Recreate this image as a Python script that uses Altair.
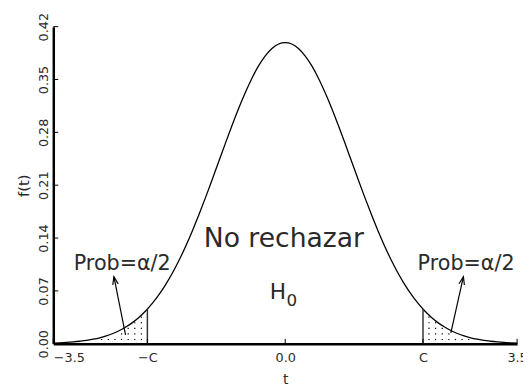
import altair as alt
import pandas as pd
import numpy as np

# ---- data ----
t_grid = [-3.5, -3.4, -3.3, -3.2, -3.1, -3.0, -2.9, -2.8, -2.7, -2.6, -2.5, -2.4,
          -2.3, -2.2, -2.1, -2.0, -1.9, -1.8, -1.7, -1.6, -1.5, -1.4, -1.3, -1.2,
          -1.1, -1.0, -0.9, -0.8, -0.7, -0.6, -0.5, -0.4, -0.3, -0.2, -0.1, 0.0,
          0.1, 0.2, 0.3, 0.4, 0.5, 0.6, 0.7, 0.8, 0.9, 1.0, 1.1, 1.2, 1.3, 1.4,
          1.5, 1.6, 1.7, 1.8, 1.9, 2.0, 2.1, 2.2, 2.3, 2.4, 2.5, 2.6, 2.7, 2.8,
          2.9, 3.0, 3.1, 3.2, 3.3, 3.4, 3.5]
f_vals = [0.0009, 0.0012, 0.0017, 0.0024, 0.0033, 0.0044, 0.0060, 0.0079, 0.0104,
          0.0136, 0.0175, 0.0224, 0.0283, 0.0355, 0.0440, 0.0540, 0.0656, 0.0790,
          0.0940, 0.1109, 0.1295, 0.1497, 0.1714, 0.1942, 0.2179, 0.2420, 0.2661,
          0.2897, 0.3123, 0.3332, 0.3521, 0.3683, 0.3814, 0.3910, 0.3970, 0.3989,
          0.3970, 0.3910, 0.3814, 0.3683, 0.3521, 0.3332, 0.3123, 0.2897, 0.2661,
          0.2420, 0.2179, 0.1942, 0.1714, 0.1497, 0.1295, 0.1109, 0.0940, 0.0790,
          0.0656, 0.0540, 0.0440, 0.0355, 0.0283, 0.0224, 0.0175, 0.0136, 0.0104,
          0.0079, 0.0060, 0.0044, 0.0033, 0.0024, 0.0017, 0.0012, 0.0009]

crit_x = [-2.08, 2.08]
crit_h = [0.046, 0.046]

x_tick_vals = [-3.5, -2.08, 0.0, 2.08, 3.5]
x_tick_labels = ["−3.5", "−C", "0.0", "C", "3.5"]
y_tick_vals = [0.0, 0.07, 0.14, 0.21, 0.28, 0.35, 0.42]

# annotation texts
prob_text = ["Prob=α/2", "Prob=α/2"]
prob_x = [-2.46, 2.73]
prob_y = [0.106, 0.106]

arrow_x0 = [-2.41, 2.50]
arrow_y0 = [0.0117, 0.0144]
arrow_x1 = [-2.585, 2.69]
arrow_y1 = [0.0888, 0.0888]
arrow_angle = [348.5, 12.8]

main_text = ["No rechazar"]
main_x = [-0.02]
main_y = [0.138]
h_text = ["H", "0"]
h_x = [-0.11, 0.10]
h_y = [0.069, 0.057]
h_size = [22, 17]

# stipple grid in the tails
dot_dx = 0.1
dot_dy = 0.0074

W, H = 471, 322

curve_df = pd.DataFrame({"t": t_grid, "f": f_vals})

dots = []
for side in (-1, 1):
    c = abs(crit_x[0])
    for k in range(20):
        xx = side * (c + 0.09 + dot_dx * k)
        if abs(xx) > 3.5:
            break
        fx = float(np.interp(xx, t_grid, f_vals))
        for j in range(10):
            yy = 0.0056 + dot_dy * j
            if yy < fx - 0.002:
                dots.append({"t": xx, "f": yy})
dots_df = pd.DataFrame(dots)

xs = alt.Scale(domain=[-3.5, 3.5], nice=False, zero=False)
ys = alt.Scale(domain=[0, 0.42], nice=False, zero=False)

label_expr = ("datum.value < -3 ? '−3.5' : datum.value < -1 ? '−C' : "
              "datum.value < 1 ? '0.0' : datum.value < 3 ? 'C' : '3.5'")

FONT = "DejaVu Sans"
TXT = "#2a2a2a"

curve = alt.Chart(curve_df).mark_line(color="black", strokeWidth=1.3, interpolate="monotone").encode(
    x=alt.X("t:Q", scale=xs, title="t",
            axis=alt.Axis(values=x_tick_vals, labelExpr=label_expr, ticks=False,
                          grid=False, domainColor="black", domainWidth=2.5,
                          labelFont=FONT, labelFontSize=13, labelColor=TXT, labelPadding=8,
                          labelOverlap=False, labelBound=False,
                          labelAlign={"condition": {"test": "datum.value < -3", "value": "left"},
                                      "value": "center"},
                          titleFont=FONT, titleFontSize=14, titleFontWeight="normal",
                          titleColor=TXT, titlePadding=8)),
    y=alt.Y("f:Q", scale=ys, title="f(t)",
            axis=alt.Axis(values=y_tick_vals, format=".2f", ticks=False, grid=False,
                          domainColor="black", domainWidth=2.5, labelAngle=-90,
                          labelAlign="center", labelBaseline="bottom", labelPadding=3,
                          labelOverlap=False, labelBound=False,
                          labelFont=FONT, labelFontSize=13, labelColor=TXT,
                          titleFont=FONT, titleFontSize=15, titleFontWeight="normal",
                          titleColor=TXT, titlePadding=6)),
)

crit_df = pd.DataFrame({"t": crit_x, "f0": [0, 0], "f1": crit_h})
crit = alt.Chart(crit_df).mark_rule(color="#333", strokeWidth=1.5).encode(
    x=alt.X("t:Q", scale=xs), y=alt.Y("f0:Q", scale=ys), y2="f1:Q")

dot_layer = alt.Chart(dots_df).mark_square(color="black", size=1.5, opacity=1).encode(
    x=alt.X("t:Q", scale=xs), y=alt.Y("f:Q", scale=ys))

xt_df = pd.DataFrame({"t": x_tick_vals})
xticks = alt.Chart(xt_df).mark_rule(color="black", strokeWidth=1).encode(
    x=alt.X("t:Q", scale=xs), y=alt.value(H), y2=alt.value(H - 5))

yt_df = pd.DataFrame({"f": y_tick_vals[1:]})
yticks = alt.Chart(yt_df).mark_rule(color="black", strokeWidth=1).encode(
    x=alt.value(0), x2=alt.value(5), y=alt.Y("f:Q", scale=ys))

arr_df = pd.DataFrame({"x0": arrow_x0, "y0": arrow_y0, "x1": arrow_x1, "y1": arrow_y1,
                       "ang": arrow_angle})
arr_lines = alt.Chart(arr_df).mark_rule(color="black", strokeWidth=1.2).encode(
    x=alt.X("x0:Q", scale=xs), y=alt.Y("y0:Q", scale=ys), x2="x1:Q", y2="y1:Q")
arr_heads = alt.Chart(arr_df).mark_point(
    shape="M -0.35 1 L 0 0 L 0.35 1", filled=False, color="black", strokeWidth=1.2,
    size=256, opacity=1).encode(
    x=alt.X("x1:Q", scale=xs), y=alt.Y("y1:Q", scale=ys), angle=alt.Angle("ang:Q", scale=None))

prob_df = pd.DataFrame({"x": prob_x, "y": prob_y, "s": prob_text})
prob = alt.Chart(prob_df).mark_text(font=FONT, fontSize=21, color=TXT).encode(
    x=alt.X("x:Q", scale=xs), y=alt.Y("y:Q", scale=ys), text="s:N")

main_df = pd.DataFrame({"x": main_x, "y": main_y, "s": main_text})
main = alt.Chart(main_df).mark_text(font=FONT, fontSize=27, color=TXT).encode(
    x=alt.X("x:Q", scale=xs), y=alt.Y("y:Q", scale=ys), text="s:N")

h_df = pd.DataFrame({"x": h_x, "y": h_y, "s": h_text, "fs": h_size})
hlab = alt.Chart(h_df).mark_text(font=FONT, color=TXT).encode(
    x=alt.X("x:Q", scale=xs), y=alt.Y("y:Q", scale=ys), text="s:N",
    size=alt.Size("fs:Q", scale=None, legend=None))

chart = alt.layer(curve, dot_layer, crit, xticks, yticks, arr_lines, arr_heads,
                  prob, main, hlab).properties(
    width=W, height=H,
    autosize=alt.AutoSizeParams(type="none"),
    padding={"left": 46, "top": 16, "right": 6, "bottom": 42},
).configure_view(stroke=None)

chart.save("out.html", embed_options={"renderer": "svg", "actions": False})
